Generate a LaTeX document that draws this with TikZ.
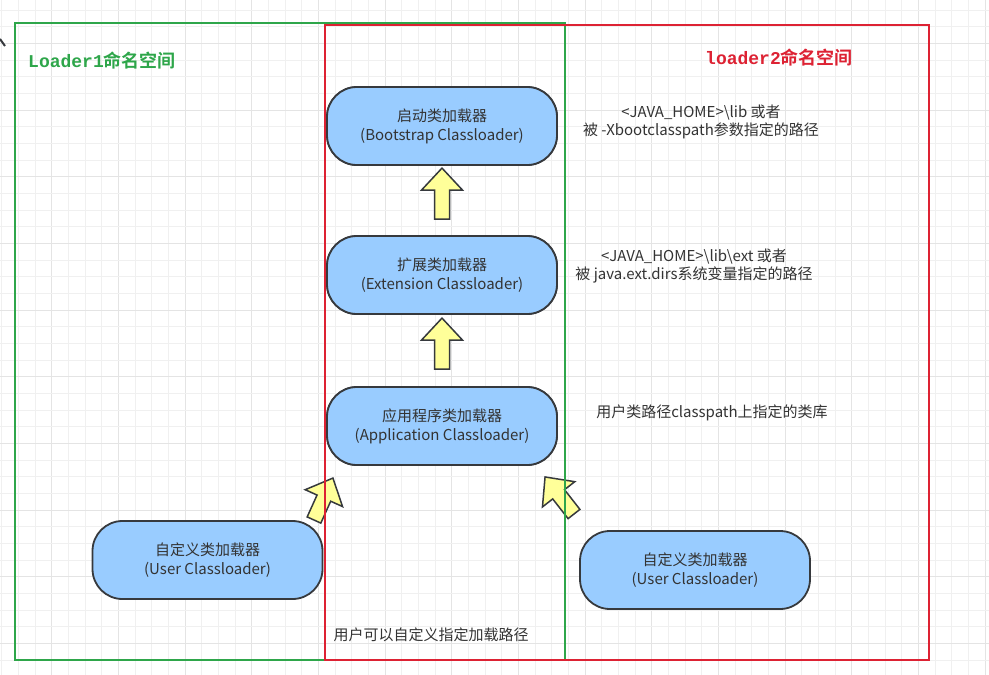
\documentclass[tikz,border=0pt]{standalone}
\usepackage{fontspec}
\setmainfont{Noto Sans CJK SC}
\newfontfamily\monob{Liberation Mono Bold}
\newfontfamily\cjkb{Noto Sans CJK SC Bold}
\usetikzlibrary{calc}
\definecolor{nodefill}{HTML}{99CCFF}
\definecolor{nodedraw}{HTML}{36393D}
\definecolor{arrowfill}{HTML}{FFFF99}
\definecolor{ngreen}{HTML}{2EA64A}
\definecolor{nred}{HTML}{DD2233}
\definecolor{txt}{HTML}{333333}
\definecolor{gridminor}{HTML}{F0F0F0}
\definecolor{gridmajor}{HTML}{E4E4E4}
\newcommand\blockarr[3]{%
  \draw[blockarrow, shift={(#1)}, rotate=#2]
    (0,7.5) -- ({#3-22},7.5) -- ({#3-22},20.5) -- (#3,0) -- ({#3-22},-20.5) -- ({#3-22},-7.5) -- (0,-7.5) -- cycle;}
\begin{document}
\begin{tikzpicture}[x=1pt,y=-1pt,
  loader/.style={draw=nodedraw, fill=nodefill, line width=1.8pt, rounded corners=30pt,
    minimum width=230pt, minimum height=78pt, align=center,
    font=\fontsize{15}{19}\selectfont, text=txt, inner sep=0pt},
  note/.style={align=center, font=\fontsize{15}{18}\selectfont, text=txt, inner sep=0pt},
  blockarrow/.style={draw=nodedraw, fill=arrowfill, line width=1.5pt, line join=miter},
  nsbox/.style={line width=2pt}]
\useasboundingbox (0,0) rectangle (989,675);
\fill[white] (0,0) rectangle (989,675);
% grid
\foreach \i in {0,...,59}{
  \pgfmathtruncatemacro\m{mod(\i,4)}
  \ifnum\m=3 \draw[gridmajor, line width=0.8pt] ({1.67+16.667*\i},0) -- ({1.67+16.667*\i},675);
  \else \draw[gridminor, line width=0.8pt] ({1.67+16.667*\i},0) -- ({1.67+16.667*\i},675); \fi}
\foreach \j in {0,...,40}{
  \pgfmathtruncatemacro\m{mod(\j,4)}
  \ifnum\m=2 \draw[gridmajor, line width=0.8pt] (0,{10+16.667*\j}) -- (989,{10+16.667*\j});
  \else \draw[gridminor, line width=0.8pt] (0,{10+16.667*\j}) -- (989,{10+16.667*\j}); \fi}
% stray mark at left edge
\draw[nodedraw, line width=2pt] (0,39) -- (5,46);
% nodes positions
\path (442,126) node[loader] (boot) {启动类加载器\\(Bootstrap Classloader)};
\path (442,275) node[loader] (ext) {扩展类加载器\\(Extension Classloader)};
\path (442,426) node[loader] (app) {应用程序类加载器\\(Application Classloader)};
% block arrows
\blockarr{$(ext.north)+(0,-16)$}{90}{51}
\blockarr{$(app.north)+(0,-17)$}{90}{51}
\blockarr{314,520}{65.7}{46}
\blockarr{574,514}{128}{47}
% namespace boxes
\draw[ngreen, nsbox] (15,23) rectangle (565,660);
\draw[nred, nsbox] (325,25) rectangle (929,660);
% nodes on top
\path (442,126) node[loader] {启动类加载器\\(Bootstrap Classloader)};
\path (442,275) node[loader] {扩展类加载器\\(Extension Classloader)};
\path (442,426) node[loader] {应用程序类加载器\\(Application Classloader)};
\path (207.5,560) node[loader] (userl) {自定义类加载器\\(User Classloader)};
\path (695,570) node[loader] (userr) {自定义类加载器\\(User Classloader)};
% labels
\node[anchor=west, text=ngreen, inner sep=0pt, font=\fontsize{18}{20}\selectfont] (l1) at (28,61) {{\monob Loader1}{\cjkb 命名空间}};
\node[anchor=west, text=nred, inner sep=0pt, font=\fontsize{18}{20}\selectfont] (l2) at (705,58) {{\monob loader2}{\cjkb 命名空间}};
\node[note] (n1) at (701,122) {<JAVA\_HOME>\textbackslash lib 或者\\被 -Xbootclasspath参数指定的路径};
\node[note] (n2) at (694,266) {<JAVA\_HOME>\textbackslash lib\textbackslash ext 或者\\被 java.ext.dirs系统变量指定的路径};
\node[note] (n3) at (712,413) {用户类路径classpath上指定的类库};
\node[note] (n4) at (431,635) {用户可以自定义指定加载路径};
\end{tikzpicture}
\end{document}
